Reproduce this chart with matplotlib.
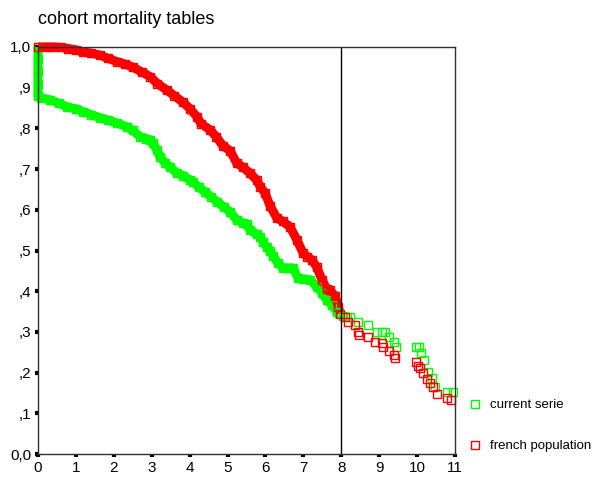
import numpy as np
import matplotlib
matplotlib.use("Agg")
import matplotlib.pyplot as plt

plt.rcParams['font.family'] = ['Liberation Sans', 'DejaVu Sans']

# survival curves (years, proportion surviving)
serie_x = [0.0, 0.0, 0.0, 0.0, 0.0, 0.08, 0.32, 0.55, 0.76, 1.0, 1.19, 1.4, 1.64, 1.85,
           2.08, 2.34, 2.5, 2.69, 2.85, 2.96, 3.04, 3.13, 3.22, 3.35, 3.48, 3.66, 3.83,
           4.01, 4.09, 4.25, 4.41, 4.56, 4.72, 4.9, 5.07, 5.24, 5.4, 5.51, 5.59, 5.77,
           5.86, 5.94, 6.03, 6.12, 6.2, 6.33, 6.46, 6.6, 6.73, 6.86, 7.0, 7.18, 7.35,
           7.49, 7.62, 7.75, 7.88, 7.95, 8.05, 8.15, 8.23, 8.44, 8.71, 8.94, 9.07, 9.16,
           9.27, 9.39, 9.45, 9.97, 10.06, 10.1, 10.18, 10.29, 10.39, 10.47, 10.8, 10.94]
serie_y = [1.0, 0.97, 0.94, 0.91, 0.88, 0.875, 0.87, 0.862, 0.853, 0.848, 0.841, 0.834,
           0.826, 0.82, 0.813, 0.804, 0.795, 0.78, 0.775, 0.771, 0.764, 0.747, 0.73,
           0.716, 0.706, 0.69, 0.684, 0.673, 0.668, 0.655, 0.644, 0.632, 0.62, 0.607,
           0.595, 0.575, 0.568, 0.564, 0.55, 0.54, 0.534, 0.52, 0.509, 0.498, 0.487,
           0.469, 0.457, 0.457, 0.457, 0.432, 0.43, 0.428, 0.411, 0.396, 0.378, 0.366,
           0.35, 0.346, 0.34, 0.337, 0.337, 0.325, 0.317, 0.3, 0.3, 0.3, 0.288, 0.276,
           0.263, 0.264, 0.264, 0.249, 0.231, 0.202, 0.186, 0.165, 0.153, 0.153]

french_x = [0.0, 0.2, 0.4, 0.6, 0.8, 1.0, 1.19, 1.4, 1.64, 1.85, 2.08, 2.3, 2.51, 2.75,
            2.96, 3.15, 3.4, 3.6, 3.83, 4.01, 4.19, 4.3, 4.54, 4.7, 4.88, 5.07, 5.24,
            5.4, 5.59, 5.77, 5.86, 5.99, 6.12, 6.3, 6.45, 6.65, 6.83, 6.99, 7.1, 7.22,
            7.35, 7.49, 7.62, 7.7, 7.84, 7.92, 7.97, 8.1, 8.18, 8.36, 8.44, 8.47, 8.71,
            8.89, 9.07, 9.1, 9.26, 9.39, 9.42, 9.97, 10.03, 10.08, 10.15, 10.26, 10.34,
            10.43, 10.52, 10.8, 10.89]
french_y = [1.0, 1.0, 1.0, 0.999, 0.996, 0.993, 0.988, 0.985, 0.98, 0.972, 0.964, 0.958,
            0.95, 0.938, 0.927, 0.91, 0.894, 0.88, 0.864, 0.848, 0.829, 0.812, 0.796,
            0.78, 0.757, 0.745, 0.715, 0.705, 0.69, 0.673, 0.657, 0.641, 0.61, 0.58,
            0.572, 0.558, 0.526, 0.494, 0.485, 0.477, 0.46, 0.428, 0.405, 0.403, 0.387,
            0.362, 0.345, 0.337, 0.325, 0.317, 0.3, 0.292, 0.287, 0.276, 0.272, 0.264,
            0.254, 0.243, 0.235, 0.227, 0.216, 0.211, 0.198, 0.184, 0.174, 0.165, 0.147,
            0.137, 0.133]

yticklabels = ['0,0', ',1', ',2', ',3', ',4', ',5', ',6', ',7', ',8', ',9', '1,0']

fig = plt.figure(figsize=(6.01, 4.79), dpi=100)
ax = fig.add_axes([38/601, 1-454/479, (455-38)/601, (454-47)/479])

def curve(x, y, col, lab):
    x = np.array(x); y = np.array(y)
    dense = x <= 8.0
    # dense part of the table: markers overlap into a solid band
    ax.plot(x[dense], y[dense], color=col, lw=6.5, solid_capstyle='butt', clip_on=False, zorder=2)
    ax.plot(x, y, ls='none', marker='s', ms=5.2, mfc='none', mec=col, mew=1.0,
            clip_on=False, zorder=3, label=lab)

curve(serie_x, serie_y, '#00ff00', 'current serie')
curve(french_x, french_y, '#ff0000', 'french population')

ax.axvline(8, color='black', lw=1.0, zorder=4)

ax.set_xlim(0, 11)
ax.set_ylim(0, 1)
ax.set_xticks(range(12))
ax.set_yticks(np.linspace(0, 1, 11))
ax.set_yticklabels(yticklabels)
ax.tick_params(direction='out', length=2, width=3, labelsize=11, pad=3)
for s in ax.spines.values():
    s.set_color('#303030')
    s.set_linewidth(1.0)
    s.set_zorder(5)

fig.text(38/601, 1-19/479, 'cohort mortality tables', fontsize=13, va='center', ha='left')

ax.legend(loc='upper left', bbox_to_anchor=(470/601, 1-399/479), bbox_transform=fig.transFigure,
          frameon=False, fontsize=9.5, labelspacing=2.2, handlelength=0.8, handletextpad=0.7,
          borderaxespad=0, borderpad=0)

fig.savefig('out.png', dpi=100)
